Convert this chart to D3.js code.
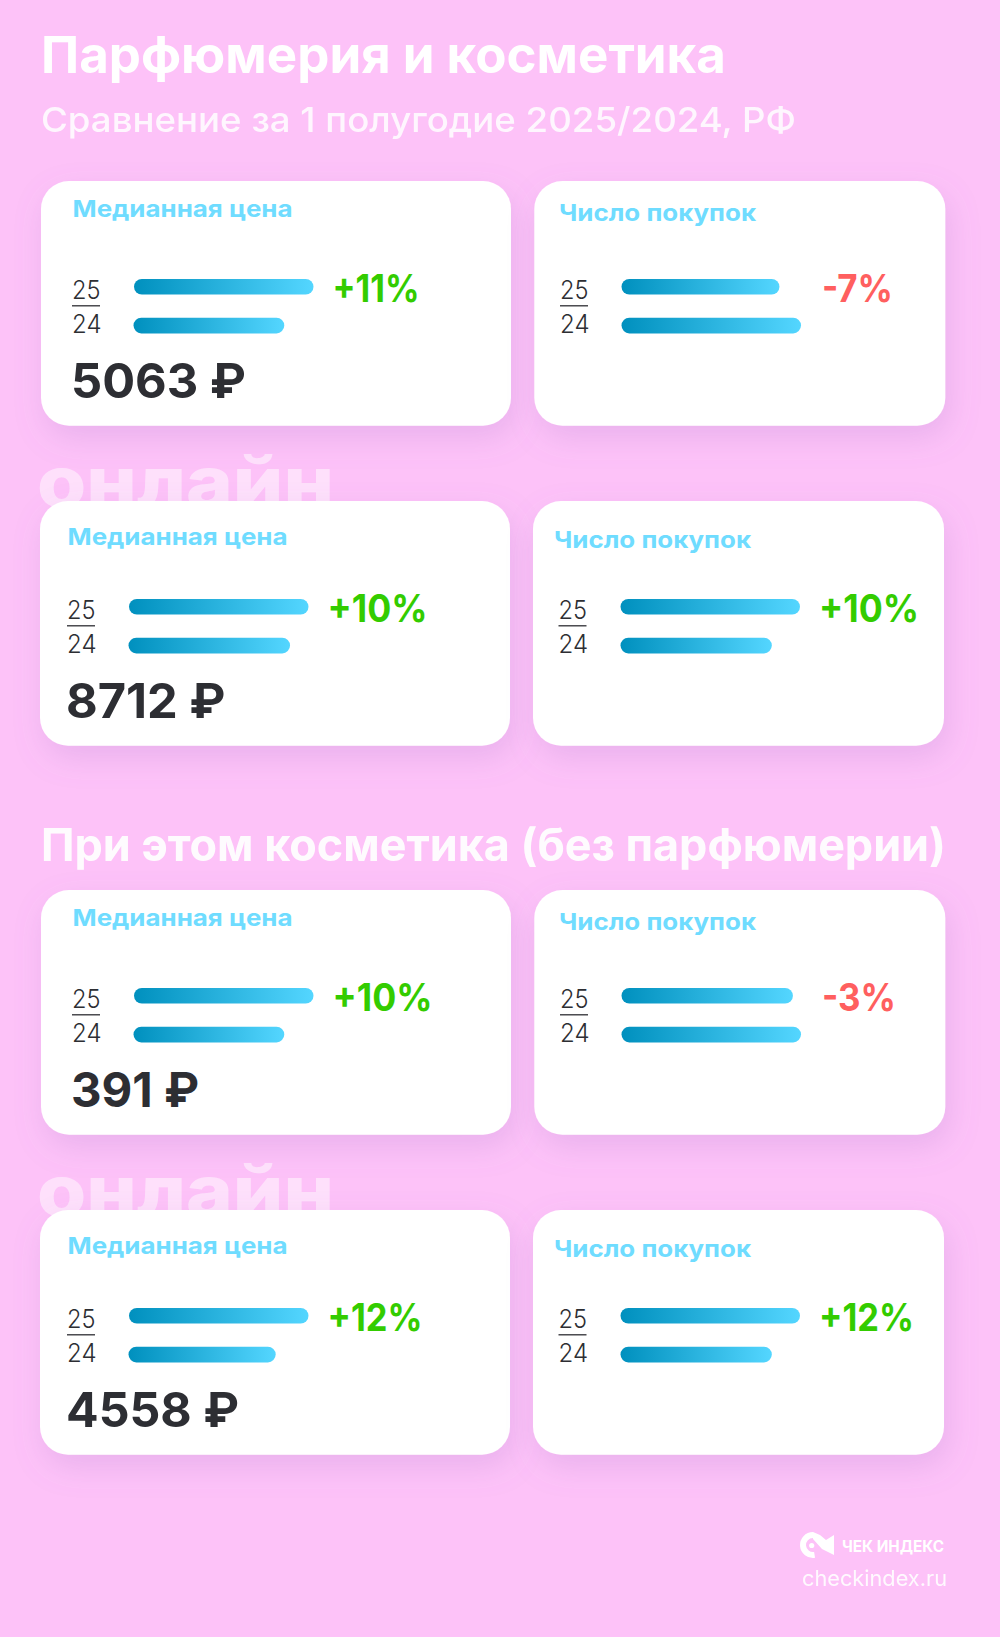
<!DOCTYPE html>
<html><head><meta charset="utf-8">
<script src="https://cdnjs.cloudflare.com/ajax/libs/d3/7.8.5/d3.min.js"></script>
<style>html,body{margin:0;padding:0;background:#fdc2f8}svg{display:block}text{font-family:Inter,"Open Sans",sans-serif}</style>
</head><body><div id="c"></div>
<script>
// ---------- data ----------
const years = ["25","24"];
const metrics = ["Медианная цена","Число покупок"];
const panels = ["all","allOnline","cosmetics","cosmeticsOnline"];
const priceBars25 = [100,100,100,100];
const priceBars24 = [84,90,84,82];
const countBars25 = [88,100,95.5,100];
const countBars24 = [100,84.3,100,84.3];
const priceChange = ["+11%","+10%","+10%","+12%"];
const countChange = ["-7%","+10%","-3%","+12%"];
const priceLabels = ["5063 ₽","8712 ₽","391 ₽","4558 ₽"];
const titleText = "Парфюмерия и косметика";
const subtitleText = "Сравнение за 1 полугодие 2025/2024, РФ";
const sectionText = "При этом косметика (без парфюмерии)";
const onlineText = "онлайн";
const brandText = "ЧЕК ИНДЕКС";
const siteText = "checkindex.ru";

// ---------- layout ----------
const W=1000,H=1637;
const panelTop={all:181,allOnline:501,cosmetics:890,cosmeticsOnline:1210};
const isOnline=p=>p.endsWith("Online");
const geo=(p,m)=>{const on=isOnline(p);
  return m===0
   ?{x:on?40:41,w:470,tx:on?67.5:72.5,ty:on?44.3:36.3,fx:on?67:72,bx:on?128.5:133.5,px:on?327.5:332.5,vx:on?66:71}
   :{x:on?533:534.3,w:411,tx:on?554:559,ty:on?47:40,fx:on?558.5:560,bx:on?620.5:621.5,px:on?819:822,vx:0};};
const pctWidth={"+11%":87,"+10%":100,"+12%":95,"-7%":71,"-3%":74};
const valWidth={"5063 ₽":175,"8712 ₽":159.5,"391 ₽":128,"4558 ₽":173};
const widthScale=d3.scaleLinear().domain([0,100]).range([0,179.5]);
const yearY=d3.scalePoint().domain(years).range([98,136.8]);
const colorFor=s=>s.startsWith("-")?"#ff5f5f":"#33cc00";

const svg=d3.select("#c").append("svg").attr("width",W).attr("height",H).attr("viewBox",`0 0 ${W} ${H}`);
const defs=svg.append("defs");
const grad=defs.append("linearGradient").attr("id","barGrad");
grad.append("stop").attr("offset","0%").attr("stop-color","#0090be");
grad.append("stop").attr("offset","100%").attr("stop-color","#54d6ff");
const f=defs.append("filter").attr("id","shadow").attr("x","-25%").attr("y","-25%").attr("width","150%").attr("height","170%");
f.append("feDropShadow").attr("dx",4).attr("dy",12).attr("stdDeviation",15).attr("flood-color","#9a70c0").attr("flood-opacity",0.2);

svg.append("rect").attr("width",W).attr("height",H).attr("fill","#fdc2f8");

const txt=(g,s,x,y,size,weight,fill,len)=>{const t=g.append("text").attr("x",x).attr("y",y).attr("font-size",size).attr("font-weight",weight).attr("fill",fill).text(s);
  if(len)t.attr("textLength",len).attr("lengthAdjust","spacingAndGlyphs");return t;};

txt(svg,titleText,41,73,51,700,"#fff",685);
txt(svg,subtitleText,41,131.5,34,450,"#fff",755).attr("opacity",.86);
txt(svg,sectionText,41,861,45,700,"#fff",905).attr("opacity",.95);

panels.forEach((p,i)=>{
  const T=panelTop[p];
  if(isOnline(p)) txt(svg,onlineText,37,T+6,70,800,"#fff",297).attr("opacity",.5);
  const rows=[
    {m:0,b:[priceBars25[i],priceBars24[i]],pct:priceChange[i],val:priceLabels[i]},
    {m:1,b:[countBars25[i],countBars24[i]],pct:countChange[i],val:null}];
  rows.forEach(r=>{
    const G=geo(p,r.m);
    const g=svg.append("g").attr("transform",`translate(0,${T})`);
    g.append("rect").attr("x",G.x).attr("y",0).attr("width",G.w).attr("height",244.7).attr("rx",28).attr("fill","#fff").attr("filter","url(#shadow)");
    txt(g,metrics[r.m],G.tx,G.ty,23.5,700,"#6fdcff",r.m?197:220);
    g.selectAll(".bar").data(years.map((y,k)=>({y,v:r.b[k]}))).join("rect").attr("class","bar")
      .attr("x",d=>G.bx+(r.m===0&&d.y==="25"?0.5:0)).attr("y",d=>yearY(d.y)).attr("width",d=>widthScale(d.v)).attr("height",15.6).attr("rx",7.8).attr("fill","url(#barGrad)");
    txt(g,years[0],G.fx,117.6,26,300,"#2d2e33",28.5);
    txt(g,years[1],G.fx,151.6,26,300,"#2d2e33",29.5);
    g.append("line").attr("x1",G.fx).attr("x2",G.fx+28).attr("y1",124.8).attr("y2",124.8).attr("stroke","#2d2e33").attr("stroke-width",1.3);
    txt(g,r.pct,G.px,120.5,38,650,colorFor(r.pct),pctWidth[r.pct]);
    if(r.val) txt(g,r.val,G.vx,216.5,48,700,"#2d2e33",valWidth[r.val]);
  });
});

// footer brand
const lg=svg.append("g").attr("fill","#fff");
lg.append("path").attr("transform","translate(813,1545)").attr("d",d3.arc().innerRadius(7).outerRadius(13).startAngle(Math.PI*0.95).endAngle(Math.PI*2));
lg.append("circle").attr("cx",811.7).attr("cy",1545.5).attr("r",2.6);
lg.append("path").attr("d",d3.line()([[813,1532],[820,1535],[826,1540],[834,1535],[834,1555],[826,1551],[822,1549],[813,1539]]));
txt(svg,brandText,842,1552,15.5,700,"#fff",102);
txt(svg,siteText,802,1586,21.5,400,"#fff",145).attr("opacity",.9);
</script></body></html>
